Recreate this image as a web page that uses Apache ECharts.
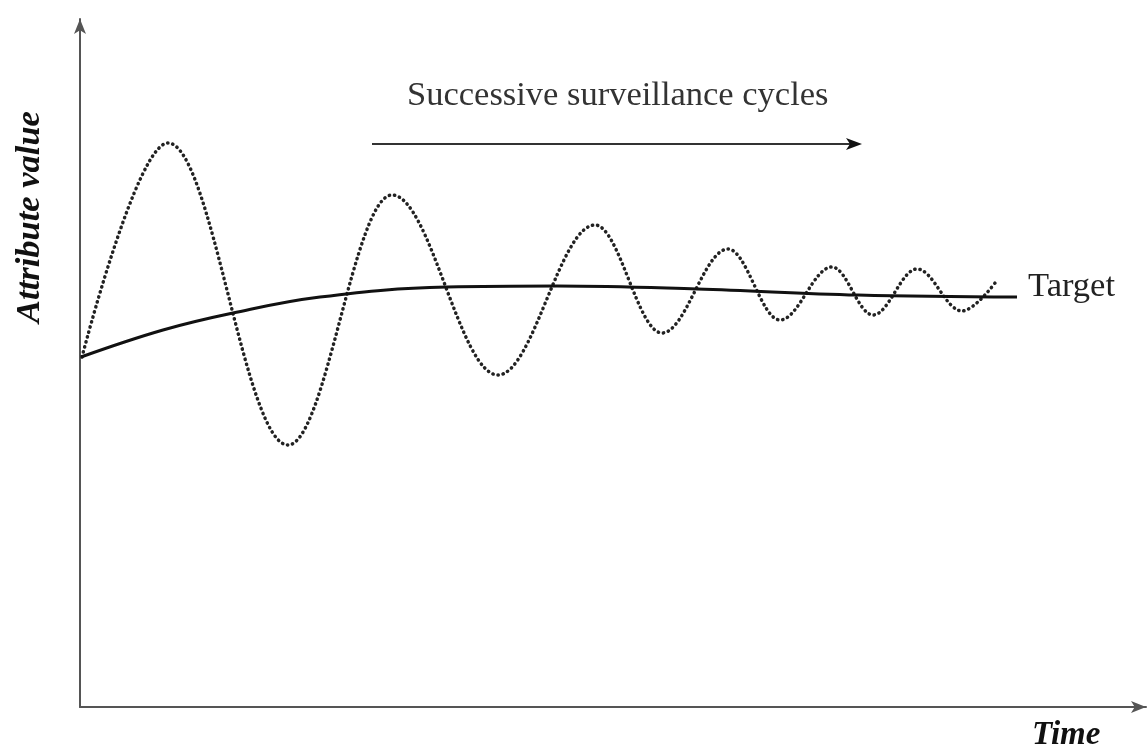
<!DOCTYPE html>
<html>
<head>
<meta charset="utf-8">
<script src="https://cdn.jsdelivr.net/npm/echarts@6/dist/echarts.min.js"></script>
<style>
  html, body { margin: 0; padding: 0; background: #fff; }
  #chart { width: 1148px; height: 749px; }
</style>
</head>
<body>
<div id="chart"></div>
<script>
    // surveillance value (dotted): start, each peak / trough, end
    const surveyTime  = [2, 88, 208, 312, 418, 515, 582, 648, 700, 752, 793, 837, 882, 915]
    const surveyValue = [350, 564, 262, 512, 332, 482, 374, 458, 387, 440, 392, 438, 396, 424]

    // target curve (solid)
    const targetTime  = [1, 83, 153, 240, 367, 477, 617, 778, 937]
    const targetValue = [350, 377, 394, 410, 420, 421, 418, 412, 410]

    const pairs = (xs, ys) => xs.map((x, i) => [x, ys[i]])

    const serif = '"Liberation Serif", "Times New Roman", serif'

    let myChart = echarts.init(document.getElementById('chart'))

    const option = {
        animation: false,
        grid: { left: 80, right: 2, top: 19, bottom: 42 },
        xAxis: {
            type: 'value',
            min: 0,
            max: 1066,
            axisLine: {
                lineStyle: { color: '#555', width: 2 },
                symbol: ['none', 'arrow'],
                symbolSize: [9, 15]
            },
            axisTick: { show: false },
            axisLabel: { show: false },
            splitLine: { show: false }
        },
        yAxis: {
            type: 'value',
            min: 0,
            max: 688,
            axisLine: {
                show: true,
                lineStyle: { color: '#555', width: 2 },
                symbol: ['none', 'arrow'],
                symbolSize: [9, 15]
            },
            axisTick: { show: false },
            axisLabel: { show: false },
            splitLine: { show: false }
        },
        series: [
            {
                name: 'surveillance',
                type: 'line',
                smooth: 0.36,
                smoothMonotone: 'x',
                showSymbol: false,
                lineStyle: { color: '#222', width: 3.5, type: [0.3, 4.9], cap: 'round' },
                data: pairs(surveyTime, surveyValue)
            },
            {
                name: 'Target',
                type: 'line',
                smooth: 0.4,
                showSymbol: false,
                lineStyle: { color: '#111', width: 3 },
                data: pairs(targetTime, targetValue),
                endLabel: {
                    show: true,
                    formatter: 'Target',
                    distance: 11,
                    offset: [0, -10],
                    fontFamily: serif,
                    fontSize: 34.5,
                    color: '#222'
                }
            }
        ],
        graphic: [
            {
                type: 'text',
                x: 407, y: 96,
                style: {
                    text: 'Successive surveillance cycles',
                    fontFamily: serif, fontSize: 34.5, fill: '#333',
                    align: 'left', verticalAlign: 'middle'
                }
            },
            {
                type: 'line',
                shape: { x1: 372, y1: 144, x2: 852, y2: 144 },
                style: { stroke: '#333', lineWidth: 2 }
            },
            {
                type: 'polygon',
                shape: { points: [[862, 144], [846, 138], [850, 144], [846, 150]] },
                style: { fill: '#111' }
            },
            {
                type: 'text',
                x: 30, y: 217,
                rotation: Math.PI / 2,
                style: {
                    text: 'Attribute value',
                    fontFamily: serif, fontSize: 34.5, fontWeight: 'bold', fontStyle: 'italic',
                    fill: '#111', align: 'center', verticalAlign: 'middle'
                }
            },
            {
                type: 'text',
                x: 1032, y: 735,
                style: {
                    text: 'Time',
                    fontFamily: serif, fontSize: 33, fontWeight: 'bold', fontStyle: 'italic',
                    fill: '#111', align: 'left', verticalAlign: 'middle'
                }
            }
        ]
    }

    myChart.setOption(option)
</script>
</body>
</html>
